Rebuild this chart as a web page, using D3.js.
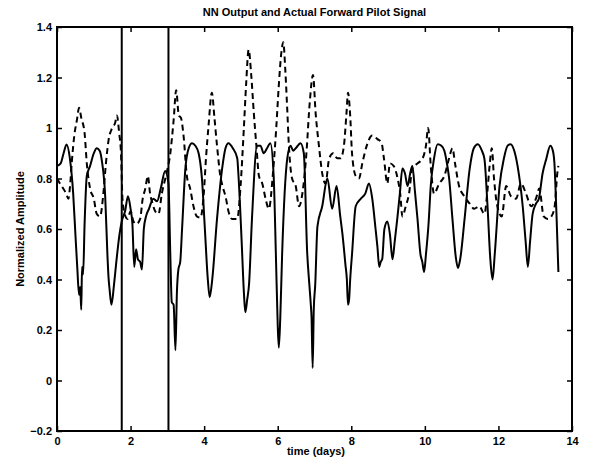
<!DOCTYPE html>
<html>
<head>
<meta charset="utf-8">
<script src="https://cdn.jsdelivr.net/npm/d3@7"></script>
<style>
  html, body { margin: 0; padding: 0; background: #fff; }
  svg text { font-family: "Liberation Sans", Arial, Helvetica, sans-serif; fill: #000; }
</style>
</head>
<body>
<svg id="chart" width="594" height="465"></svg>
<script>
// ---- data ----
const chartTitle = "NN Output and Actual Forward Pilot Signal";
const xLabel = "time (days)";
const yLabel = "Normalized Amplitude";

const xTicks = [0, 2, 4, 6, 8, 10, 12, 14];
const yTicks = [-0.2, 0, 0.2, 0.4, 0.6, 0.8, 1, 1.2, 1.4];

// vertical marker lines (days)
const markerDays = [1.76, 3.03];

// solid trace
const solidDays = [0.00,0.10,0.18,0.26,0.35,0.44,0.50,0.55,0.60,0.63,0.66,0.68,0.71,0.75,0.81,0.90,1.00,1.08,1.16,1.22,1.31,1.37,1.40,1.43,1.48,1.55,1.62,1.70,1.76,1.85,1.93,2.00,2.05,2.10,2.15,2.20,2.26,2.31,2.36,2.42,2.50,2.62,2.72,2.82,2.94,3.03,3.08,3.12,3.17,3.22,3.26,3.30,3.35,3.40,3.49,3.58,3.67,3.76,3.85,3.94,4.02,4.10,4.15,4.22,4.35,4.49,4.58,4.66,4.78,4.90,4.93,5.02,5.08,5.12,5.17,5.22,5.30,5.44,5.53,5.62,5.71,5.80,5.89,5.95,6.00,6.03,6.07,6.12,6.26,6.35,6.42,6.49,6.62,6.71,6.80,6.86,6.90,6.92,6.95,6.98,7.02,7.08,7.21,7.35,7.48,7.60,7.70,7.76,7.84,7.88,7.91,7.94,7.97,8.02,8.12,8.26,8.38,8.48,8.57,8.66,8.71,8.76,8.80,8.84,8.90,8.98,9.05,9.12,9.18,9.25,9.32,9.39,9.46,9.53,9.60,9.66,9.73,9.80,9.88,9.93,9.98,10.03,10.10,10.16,10.25,10.35,10.45,10.53,10.60,10.66,10.75,10.84,10.90,10.96,11.08,11.22,11.33,11.44,11.55,11.62,11.70,11.78,11.84,11.90,12.03,12.15,12.25,12.33,12.43,12.52,12.66,12.74,12.80,12.86,12.93,13.02,13.10,13.20,13.30,13.41,13.48,13.52,13.58,13.63];
const solidValues = [0.85,0.86,0.90,0.935,0.88,0.74,0.58,0.45,0.34,0.37,0.28,0.45,0.42,0.62,0.81,0.85,0.90,0.92,0.91,0.87,0.73,0.50,0.41,0.36,0.30,0.38,0.48,0.58,0.63,0.67,0.73,0.68,0.62,0.45,0.52,0.48,0.47,0.44,0.60,0.65,0.68,0.72,0.71,0.76,0.83,0.78,0.50,0.31,0.30,0.12,0.35,0.44,0.47,0.60,0.84,0.92,0.94,0.93,0.90,0.80,0.60,0.40,0.33,0.40,0.64,0.84,0.92,0.94,0.92,0.88,0.82,0.55,0.35,0.27,0.32,0.38,0.64,0.93,0.93,0.90,0.92,0.94,0.81,0.50,0.22,0.13,0.25,0.50,0.88,0.93,0.91,0.92,0.94,0.90,0.51,0.38,0.30,0.25,0.05,0.28,0.38,0.61,0.69,0.80,0.68,0.77,0.65,0.58,0.46,0.40,0.30,0.32,0.40,0.50,0.69,0.72,0.74,0.78,0.72,0.60,0.53,0.45,0.47,0.48,0.60,0.63,0.58,0.48,0.55,0.64,0.74,0.84,0.82,0.77,0.82,0.85,0.75,0.64,0.50,0.47,0.43,0.50,0.62,0.77,0.88,0.936,0.93,0.91,0.86,0.80,0.64,0.49,0.446,0.48,0.64,0.84,0.92,0.936,0.91,0.877,0.70,0.48,0.40,0.50,0.77,0.88,0.93,0.936,0.91,0.85,0.69,0.55,0.45,0.55,0.66,0.70,0.72,0.82,0.877,0.93,0.91,0.865,0.65,0.43];

// dashed trace
const dashedDays = [0.00,0.08,0.17,0.25,0.31,0.36,0.40,0.47,0.54,0.60,0.66,0.75,0.81,0.90,1.00,1.08,1.17,1.26,1.33,1.40,1.50,1.58,1.63,1.69,1.74,1.78,1.84,1.92,2.00,2.08,2.16,2.26,2.33,2.40,2.47,2.53,2.60,2.67,2.76,2.85,2.96,3.08,3.17,3.24,3.31,3.37,3.44,3.53,3.62,3.71,3.80,3.90,3.99,4.05,4.12,4.21,4.28,4.35,4.44,4.52,4.58,4.67,4.76,4.90,4.99,5.08,5.14,5.21,5.28,5.35,5.42,5.49,5.58,5.67,5.76,5.87,5.96,6.03,6.10,6.15,6.21,6.26,6.30,6.39,6.49,6.58,6.67,6.78,6.87,6.96,7.03,7.12,7.21,7.30,7.40,7.51,7.62,7.71,7.80,7.87,7.91,7.97,8.02,8.12,8.21,8.30,8.42,8.57,8.71,8.82,8.89,8.98,9.05,9.15,9.26,9.33,9.39,9.48,9.57,9.66,9.80,9.94,10.03,10.09,10.16,10.25,10.39,10.53,10.66,10.75,10.82,10.93,11.07,11.22,11.34,11.48,11.62,11.70,11.76,11.82,11.88,11.97,12.09,12.21,12.34,12.48,12.61,12.75,12.89,13.02,13.11,13.23,13.34,13.44,13.53,13.60,13.63];
const dashedValues = [0.80,0.78,0.76,0.74,0.72,0.78,0.86,0.97,1.03,1.08,1.04,0.98,0.86,0.76,0.72,0.66,0.65,0.74,0.86,0.95,1.00,1.02,1.05,0.98,0.90,0.72,0.66,0.64,0.67,0.63,0.62,0.64,0.72,0.76,0.81,0.74,0.70,0.67,0.66,0.74,0.81,0.90,1.03,1.15,1.05,1.04,0.97,0.81,0.76,0.69,0.65,0.645,0.74,0.88,1.01,1.14,1.04,0.93,0.81,0.76,0.73,0.665,0.64,0.64,0.77,1.00,1.17,1.31,1.21,1.06,0.93,0.81,0.78,0.72,0.68,0.82,1.00,1.17,1.30,1.34,1.22,1.07,0.94,0.80,0.77,0.69,0.74,0.90,1.10,1.21,1.06,0.93,0.82,0.78,0.88,0.90,0.88,0.88,0.93,1.06,1.14,1.05,0.90,0.81,0.80,0.86,0.93,0.97,0.956,0.943,0.877,0.78,0.86,0.85,0.80,0.74,0.65,0.69,0.74,0.84,0.86,0.88,0.93,1.00,0.85,0.74,0.78,0.81,0.88,0.92,0.86,0.77,0.73,0.70,0.68,0.69,0.66,0.75,0.85,0.92,0.80,0.69,0.65,0.77,0.73,0.72,0.78,0.74,0.69,0.72,0.76,0.65,0.64,0.65,0.69,0.82,0.85];

// ---- drawing ----
const svg = d3.select("#chart");
const mL = 57, mR = 572, mT = 27, mB = 431;

const x = d3.scaleLinear().domain([0, 14]).range([mL, mR]);
const y = d3.scaleLinear().domain([-0.2, 1.4]).range([mB, mT]);

const fmt = d => (Math.abs(d) < 1e-9 ? "0" : d3.format("~g")(+(+d).toFixed(1)));

// inward ticks on all four sides
const gB = svg.append("g").attr("transform", `translate(0,${mB})`)
  .call(d3.axisBottom(x).tickValues(xTicks).tickSize(-5).tickPadding(6).tickFormat(fmt));
const gL = svg.append("g").attr("transform", `translate(${mL},0)`)
  .call(d3.axisLeft(y).tickValues(yTicks).tickSize(-5).tickPadding(5).tickFormat(fmt));
const gT = svg.append("g").attr("transform", `translate(0,${mT})`)
  .call(d3.axisTop(x).tickValues(xTicks).tickSize(-5).tickFormat(""));
const gR = svg.append("g").attr("transform", `translate(${mR},0)`)
  .call(d3.axisRight(y).tickValues(yTicks).tickSize(-5).tickFormat(""));

[gB, gL, gT, gR].forEach(g => {
  g.select(".domain").remove();
  g.selectAll(".tick line").attr("stroke", "#000").attr("stroke-width", 1.5);
  g.selectAll("text").attr("font-size", 11).attr("font-weight", "bold");
});

// series
svg.append("clipPath").attr("id", "plotclip")
  .append("rect").attr("x", mL).attr("y", mT).attr("width", mR - mL).attr("height", mB - mT);

const line = d3.line().x(d => x(d[0])).y(d => y(d[1])).curve(d3.curveMonotoneX);

const nS = Math.min(solidDays.length, solidValues.length);
const nD = Math.min(dashedDays.length, dashedValues.length);
const solidPts = solidDays.slice(0, nS).map((d, i) => [d, solidValues[i]]);
const dashedPts = dashedDays.slice(0, nD).map((d, i) => [d, dashedValues[i]]);

const plot = svg.append("g").attr("clip-path", "url(#plotclip)");

plot.append("path").datum(dashedPts)
  .attr("d", line).attr("fill", "none").attr("stroke", "#000")
  .attr("stroke-width", 2).attr("stroke-dasharray", "6,4");

plot.append("path").datum(solidPts)
  .attr("d", line).attr("fill", "none").attr("stroke", "#000")
  .attr("stroke-width", 2).attr("stroke-linejoin", "round");

// vertical markers
plot.selectAll("line.marker").data(markerDays).enter().append("line")
  .attr("class", "marker")
  .attr("x1", d => x(d)).attr("x2", d => x(d))
  .attr("y1", y(1.4)).attr("y2", y(-0.2))
  .attr("stroke", "#000").attr("stroke-width", 2);

// axes box
svg.append("rect").attr("x", mL).attr("y", mT)
  .attr("width", mR - mL).attr("height", mB - mT)
  .attr("fill", "none").attr("stroke", "#000").attr("stroke-width", 2);

// title and labels
svg.append("text").attr("x", (mL + mR) / 2).attr("y", 16)
  .attr("text-anchor", "middle").attr("font-size", 11).attr("font-weight", "bold")
  .text(chartTitle);

svg.append("text").attr("x", 316).attr("y", 455)
  .attr("text-anchor", "middle").attr("font-size", 11).attr("font-weight", "bold")
  .text(xLabel);

svg.append("text")
  .attr("transform", `translate(24,229) rotate(-90)`)
  .attr("text-anchor", "middle").attr("font-size", 11).attr("font-weight", "bold")
  .text(yLabel);
</script>
</body>
</html>
